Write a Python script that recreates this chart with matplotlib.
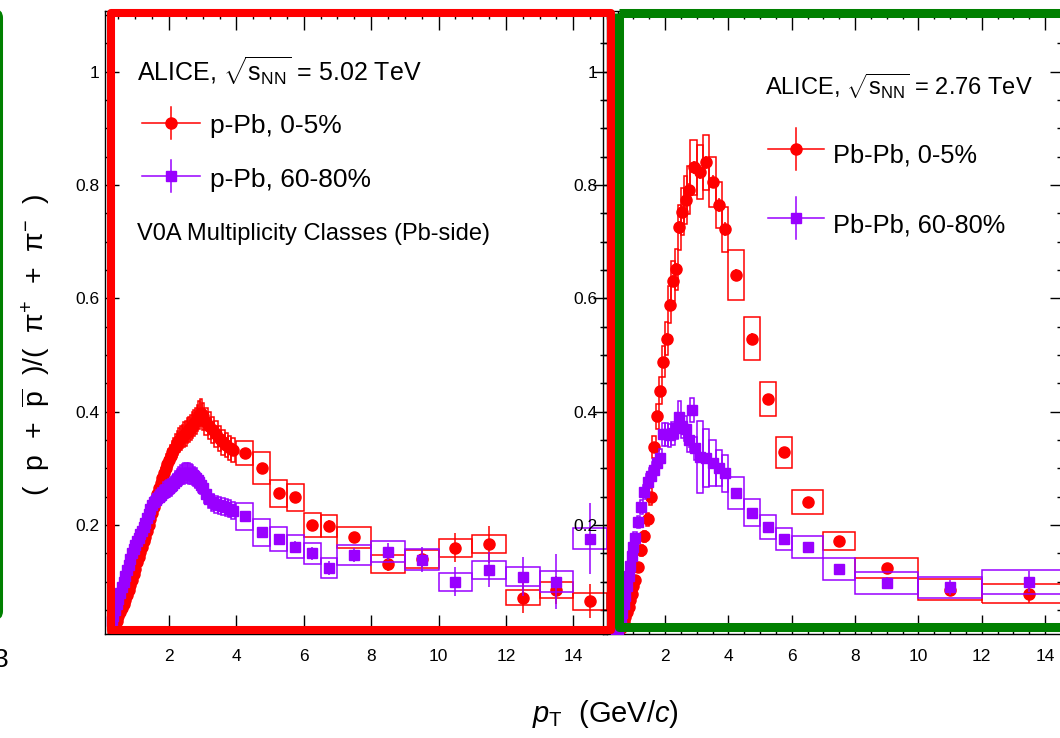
import numpy as np
import matplotlib
matplotlib.use('Agg')
import matplotlib.pyplot as plt
from matplotlib.patches import Rectangle, FancyBboxPatch
from matplotlib.lines import Line2D
from matplotlib.ticker import MultipleLocator, FuncFormatter

plt.rcParams['font.family'] = ['Liberation Sans', 'DejaVu Sans']
plt.rcParams['mathtext.fontset'] = 'custom'
plt.rcParams['mathtext.rm'] = 'Liberation Sans'
plt.rcParams['mathtext.it'] = 'Liberation Sans:italic'
plt.rcParams['mathtext.bf'] = 'Liberation Sans:bold'

# ---------------- data: p-Pb 5.02 TeV ----------------
pt_pPb_0 = [0.35, 0.40, 0.45, 0.50, 0.55, 0.60, 0.65, 0.70, 0.75, 0.80,
            0.85, 0.90, 0.95, 1.00, 1.05, 1.10, 1.15, 1.20, 1.25, 1.30,
            1.35, 1.40, 1.45, 1.50, 1.55, 1.60, 1.65, 1.70, 1.75, 1.80,
            1.85, 1.90, 1.95, 2.00, 2.05, 2.10, 2.15, 2.20, 2.25, 2.30,
            2.35, 2.40, 2.45, 2.50, 2.55, 2.60, 2.65, 2.70, 2.75, 2.80,
            2.85, 2.90, 2.95, 3.00,
            3.1, 3.2, 3.3, 3.4, 3.5, 3.6, 3.7, 3.8, 3.9,
            4.25, 4.75, 5.25, 5.75, 6.25, 6.75,
            7.5, 8.5, 9.5, 10.5, 11.5, 12.5, 13.5, 14.5]
val_pPb_0 = [0.012, 0.020, 0.030, 0.040, 0.047, 0.054, 0.061, 0.068, 0.077, 0.085,
             0.094, 0.103, 0.113, 0.123, 0.134, 0.144, 0.153, 0.162, 0.171, 0.179,
             0.190, 0.200, 0.210, 0.221, 0.232, 0.243, 0.254, 0.265, 0.274, 0.283,
             0.292, 0.300, 0.308, 0.315, 0.322, 0.329, 0.334, 0.340, 0.345, 0.350,
             0.353, 0.356, 0.359, 0.362, 0.366, 0.369, 0.372, 0.376, 0.380, 0.384,
             0.388, 0.394, 0.398, 0.392,
             0.382, 0.375, 0.368, 0.360, 0.352, 0.346, 0.341, 0.336, 0.332,
             0.327, 0.300, 0.256, 0.249, 0.200, 0.198,
             0.178, 0.131, 0.140, 0.160, 0.166, 0.072, 0.085, 0.065]
sys_pPb_0 = [0.001, 0.001, 0.002, 0.002, 0.003, 0.003, 0.004, 0.004, 0.005, 0.005,
             0.006, 0.006, 0.007, 0.007, 0.008, 0.009, 0.009, 0.010, 0.010, 0.011,
             0.011, 0.012, 0.013, 0.013, 0.014, 0.015, 0.015, 0.016, 0.016, 0.017,
             0.018, 0.018, 0.018, 0.019, 0.019, 0.020, 0.020, 0.020, 0.021, 0.021,
             0.021, 0.021, 0.022, 0.022, 0.022, 0.022, 0.022, 0.023, 0.023, 0.023,
             0.023, 0.024, 0.024, 0.024,
             0.024, 0.024, 0.023, 0.023, 0.022, 0.022, 0.021, 0.021, 0.021,
             0.022, 0.028, 0.024, 0.024, 0.022, 0.020,
             0.018, 0.016, 0.016, 0.016, 0.016, 0.014, 0.014, 0.015]
wid_pPb_0 = [0.05] * 54 + [0.1] * 9 + [0.5] * 6 + [1.0] * 8
stat_pPb_0 = [0.006, 0.006, 0.006, 0.006, 0.006, 0.006, 0.006, 0.006, 0.006,
              0.005, 0.006, 0.007, 0.008, 0.009, 0.010,
              0.010, 0.013, 0.015, 0.026, 0.033, 0.028, 0.025, 0.030]

pt_pPb_60 = [0.30, 0.35, 0.40, 0.45, 0.50, 0.55, 0.60, 0.65, 0.70, 0.75,
             0.80, 0.85, 0.90, 0.95, 1.00, 1.05, 1.10, 1.15, 1.20, 1.25,
             1.30, 1.35, 1.40, 1.45, 1.50, 1.55, 1.60, 1.65, 1.70, 1.75,
             1.80, 1.85, 1.90, 1.95, 2.00, 2.05, 2.10, 2.15, 2.20, 2.25,
             2.30, 2.35, 2.40, 2.45, 2.50, 2.55, 2.60, 2.65, 2.70, 2.75,
             2.80, 2.85, 2.90, 2.95, 3.00,
             3.1, 3.2, 3.3, 3.4, 3.5, 3.6, 3.7, 3.8, 3.9,
             4.25, 4.75, 5.25, 5.75, 6.25, 6.75,
             7.5, 8.5, 9.5, 10.5, 11.5, 12.5, 13.5, 14.5]
val_pPb_60 = [0.030, 0.040, 0.050, 0.060, 0.070, 0.080, 0.090, 0.100, 0.110, 0.120,
              0.130, 0.140, 0.150, 0.157, 0.164, 0.171, 0.177, 0.184, 0.190, 0.197,
              0.204, 0.212, 0.220, 0.228, 0.235, 0.240, 0.244, 0.247, 0.250, 0.253,
              0.256, 0.259, 0.262, 0.264, 0.266, 0.268, 0.271, 0.274, 0.278, 0.282,
              0.285, 0.288, 0.290, 0.291, 0.292, 0.292, 0.291, 0.290, 0.288, 0.286,
              0.283, 0.279, 0.275, 0.270, 0.265,
              0.255, 0.246, 0.240, 0.237, 0.235, 0.233, 0.231, 0.229, 0.225,
              0.215, 0.187, 0.175, 0.162, 0.150, 0.124,
              0.147, 0.153, 0.139, 0.100, 0.121, 0.109, 0.100, 0.176]
sys_pPb_60 = [0.002, 0.002, 0.003, 0.004, 0.004, 0.005, 0.005, 0.006, 0.007, 0.007,
              0.008, 0.008, 0.009, 0.009, 0.010, 0.010, 0.011, 0.011, 0.011, 0.012,
              0.012, 0.013, 0.013, 0.014, 0.014, 0.014, 0.015, 0.015, 0.015, 0.015,
              0.015, 0.016, 0.016, 0.016, 0.016, 0.016, 0.016, 0.016, 0.017, 0.017,
              0.017, 0.017, 0.017, 0.018, 0.018, 0.018, 0.018, 0.017, 0.017, 0.017,
              0.017, 0.017, 0.016, 0.016, 0.016,
              0.016, 0.016, 0.015, 0.015, 0.015, 0.015, 0.015, 0.015, 0.015,
              0.023, 0.024, 0.021, 0.020, 0.018, 0.018,
              0.018, 0.018, 0.018, 0.016, 0.016, 0.016, 0.018, 0.018]
wid_pPb_60 = [0.05] * 55 + [0.1] * 9 + [0.5] * 6 + [1.0] * 8
stat_pPb_60 = [0.006, 0.006, 0.006, 0.006, 0.006, 0.006, 0.006, 0.006, 0.006,
               0.006, 0.007, 0.008, 0.009, 0.012, 0.013,
               0.012, 0.015, 0.022, 0.025, 0.031, 0.034, 0.049, 0.063]

# ---------------- data: Pb-Pb 2.76 TeV ----------------
pt_PbPb_0 = [0.35, 0.40, 0.45, 0.50, 0.55, 0.60, 0.65, 0.70, 0.75, 0.80,
             0.85, 0.90, 0.95, 1.00,
             1.05, 1.15, 1.25, 1.35, 1.45, 1.55, 1.65, 1.75, 1.85, 1.95,
             2.05, 2.15, 2.25, 2.35, 2.45, 2.55, 2.65, 2.75,
             2.9, 3.1, 3.3, 3.5, 3.7, 3.9,
             4.25, 4.75, 5.25, 5.75, 6.5, 7.5, 9.0, 11.0, 13.5]
val_PbPb_0 = [0.004, 0.006, 0.008, 0.011, 0.014, 0.018, 0.023, 0.029, 0.037, 0.046,
              0.056, 0.067, 0.079, 0.092,
              0.103, 0.125, 0.155, 0.180, 0.210, 0.250, 0.338, 0.392, 0.437, 0.488,
              0.529, 0.589, 0.631, 0.651, 0.725, 0.753, 0.773, 0.791,
              0.831, 0.823, 0.840, 0.806, 0.765, 0.722,
              0.641, 0.529, 0.422, 0.328, 0.241, 0.172, 0.124, 0.086, 0.079]
sys_PbPb_0 = [0.001, 0.001, 0.001, 0.001, 0.001, 0.001, 0.002, 0.002, 0.002, 0.003,
              0.003, 0.004, 0.005, 0.005,
              0.006, 0.007, 0.009, 0.010, 0.012, 0.015, 0.019, 0.022, 0.024, 0.027,
              0.029, 0.032, 0.035, 0.036, 0.040, 0.041, 0.042, 0.043,
              0.048, 0.048, 0.048, 0.044, 0.041, 0.040,
              0.044, 0.038, 0.030, 0.027, 0.021, 0.016, 0.017, 0.018, 0.016]
wid_PbPb_0 = [0.05] * 14 + [0.1] * 18 + [0.2] * 6 + [0.5] * 4 + [1.0] * 2 + [2.0] * 2 + [3.0]
stat_PbPb_0 = [0.004, 0.004, 0.005, 0.005, 0.006, 0.006, 0.007, 0.007, 0.008, 0.008,
               0.009, 0.010, 0.010, 0.012, 0.012, 0.012, 0.012, 0.012,
               0.012, 0.012, 0.012, 0.012, 0.012, 0.012,
               0.010, 0.010, 0.010, 0.010, 0.008, 0.008, 0.008, 0.010, 0.016]

pt_PbPb_60 = [0.45, 0.50, 0.55, 0.60, 0.65, 0.70, 0.75, 0.80, 0.85, 0.90,
              0.95, 1.00,
              1.05, 1.15, 1.25, 1.35, 1.45, 1.55, 1.65, 1.75, 1.85, 1.95,
              2.05, 2.15, 2.25, 2.35, 2.45, 2.55, 2.65, 2.75, 2.85, 2.95,
              3.1, 3.3, 3.5, 3.7, 3.9,
              4.25, 4.75, 5.25, 5.75, 6.5, 7.5, 9.0, 11.0, 13.5]
val_PbPb_60 = [0.010, 0.015, 0.022, 0.032, 0.044, 0.060, 0.075, 0.093, 0.110, 0.128,
               0.145, 0.162,
               0.177, 0.205, 0.232, 0.258, 0.276, 0.287, 0.297, 0.309, 0.318, 0.360,
               0.360, 0.358, 0.362, 0.372, 0.390, 0.375, 0.370, 0.350, 0.403, 0.335,
               0.320, 0.318, 0.309, 0.300, 0.291,
               0.257, 0.222, 0.197, 0.175, 0.161, 0.122, 0.098, 0.090, 0.100]
sys_PbPb_60 = [0.001, 0.001, 0.001, 0.002, 0.002, 0.003, 0.004, 0.005, 0.006, 0.007,
               0.008, 0.009,
               0.010, 0.011, 0.012, 0.013, 0.014, 0.014, 0.015, 0.015, 0.016, 0.020,
               0.020, 0.020, 0.020, 0.021, 0.028, 0.022, 0.022, 0.021, 0.021, 0.020,
               0.064, 0.051, 0.041, 0.032, 0.032,
               0.028, 0.024, 0.021, 0.019, 0.019, 0.019, 0.019, 0.018, 0.021]
wid_PbPb_60 = [0.05] * 12 + [0.1] * 20 + [0.2] * 5 + [0.5] * 4 + [1.0] * 2 + [2.0] * 2 + [3.0]
stat_PbPb_60 = [0.006, 0.006, 0.006, 0.006, 0.006, 0.006, 0.006, 0.006, 0.006, 0.006,
                0.006, 0.006, 0.006, 0.008, 0.008, 0.008, 0.008, 0.015, 0.008, 0.008,
                0.008, 0.008, 0.008, 0.008, 0.008,
                0.006, 0.007, 0.008, 0.008, 0.008, 0.010, 0.010, 0.013, 0.018]

yticks = [0.2, 0.4, 0.6, 0.8, 1.0]
xticks = [2, 4, 6, 8, 10, 12, 14]

RED = '#ff0000'
PURPLE = '#9900ff'
GREEN = '#008000'

W, H = 1060, 738
fig = plt.figure(figsize=(W / 100, H / 100), dpi=100)
fig.patch.set_facecolor('white')


def fx(x):
    return x / W


def fy(y):
    return 1 - y / H


TOP, BOT = 11, 634
axL = fig.add_axes([fx(105), fy(BOT), (607 - 105) / W, (BOT - TOP) / H])
axR = fig.add_axes([fx(603), fy(BOT), (1064 - 603) / W, (BOT - TOP) / H])
axR.set_facecolor('none')

axL.set_xlim(0.1, 15.0)
axR.set_xlim(0.04, 14.6)
for ax in (axL, axR):
    ax.set_ylim(0.0076, 1.107)
    ax.set_xticks(xticks)
    ax.set_yticks(yticks)
    ax.xaxis.set_minor_locator(MultipleLocator(0.5))
    ax.yaxis.set_minor_locator(MultipleLocator(0.05))
    ax.yaxis.set_major_formatter(FuncFormatter(lambda v, p: '1' if abs(v - 1) < 1e-6 else f'{v:.1f}'))
    ax.xaxis.set_major_formatter(FuncFormatter(lambda v, p: f'{v:.0f}'))
    ax.tick_params(which='both', direction='in', top=True, right=True, colors='black')
    ax.tick_params(axis='x', which='major', length=14, width=1, labelsize=12.5, pad=11)
    ax.tick_params(axis='x', which='minor', length=6, width=1)
    ax.tick_params(axis='y', which='major', length=10, width=1, labelsize=12.5, pad=4)
    ax.tick_params(axis='y', which='minor', length=5, width=1)
    for s in ax.spines.values():
        s.set_linewidth(1.0)


def draw_series(ax, pt, val, wid, sys, stat, color, marker, ms, zb):
    for p, v, w, s in zip(pt, val, wid, sys):
        ax.add_patch(Rectangle((p - w / 2, v - s), w, 2 * s, fill=False,
                               ec=color, lw=1.1, zorder=zb))
    ax.plot(pt, val, ls='none', marker=marker, ms=ms, color=color, mec=color, zorder=zb + 0.5)
    n = len(pt) - len(stat)
    ax.errorbar(pt[n:], val[n:], yerr=stat, fmt='none', ecolor=color, elinewidth=1.1,
                capsize=0, zorder=zb + 0.4)


draw_series(axL, pt_pPb_0, val_pPb_0, wid_pPb_0, sys_pPb_0, stat_pPb_0, RED, 'o', 8, 2)
draw_series(axL, pt_pPb_60, val_pPb_60, wid_pPb_60, sys_pPb_60, stat_pPb_60, PURPLE, 's', 7, 4)
draw_series(axR, pt_PbPb_0, val_PbPb_0, wid_PbPb_0, sys_PbPb_0, stat_PbPb_0, RED, 'o', 8, 2)
draw_series(axR, pt_PbPb_60, val_PbPb_60, wid_PbPb_60, sys_PbPb_60, stat_PbPb_60, PURPLE, 's', 7, 4)

# ---------------- overlay (pixel coordinates) ----------------
ov = fig.add_axes([0, 0, 1, 1], zorder=10)
ov.set_xlim(0, W)
ov.set_ylim(H, 0)
ov.axis('off')
ov.patch.set_alpha(0)

# highlight frames
ov.add_patch(Rectangle((111, 12.5), 611 - 111, 630 - 12.5, fill=False, ec=RED, lw=5.8,
                       joinstyle='round', zorder=5))
ov.add_patch(Rectangle((619, 12.5), 1200, 627 - 12.5, fill=False, ec=GREEN, lw=6.5,
                       joinstyle='round', zorder=6))
ov.add_patch(FancyBboxPatch((-300, 10), 301.5, 609, boxstyle='round,pad=0,rounding_size=8',
                            fill=False, ec=GREEN, lw=2.2, zorder=6))
ov.text(1, 667, '3', fontsize=19, ha='center', va='baseline', color='black')

# annotations
alice_L = r'ALICE, $\sqrt{\mathrm{s}_{\mathrm{NN}}}$ = 5.02 TeV'
alice_R = r'ALICE, $\sqrt{\mathrm{s}_{\mathrm{NN}}}$ = 2.76 TeV'
ov.text(137, 82, alice_L, fontsize=18, ha='left', va='baseline')
ov.text(765, 95, alice_R, fontsize=17, ha='left', va='baseline')
ov.text(137, 240, 'V0A Multiplicity Classes (Pb-side)', fontsize=17, ha='left', va='baseline')


def legend_entry(xc, yc, half_w, half_h, color, marker, ms, label, tx, ty, fs):
    ov.add_line(Line2D([xc - half_w, xc + half_w], [yc, yc], color=color, lw=1.1))
    ov.add_line(Line2D([xc, xc], [yc - half_h, yc + half_h], color=color, lw=1.1))
    ov.plot([xc], [yc], marker=marker, ms=ms, color=color, ls='none')
    ov.text(tx, ty, label, fontsize=fs, ha='left', va='baseline')


legend_entry(171, 123, 29, 16, RED, 'o', 8, 'p-Pb, 0-5%', 210, 133, 19)
legend_entry(171, 176, 29, 16, PURPLE, 's', 7, 'p-Pb, 60-80%', 210, 187, 19)
legend_entry(796, 149, 28, 21, RED, 'o', 8, 'Pb-Pb, 0-5%', 833, 163, 18.3)
legend_entry(796, 218, 28, 21, PURPLE, 's', 7, 'Pb-Pb, 60-80%', 833, 233, 18.3)

# axis titles
ov.text(605, 722, r'$p_{\mathrm{T}}$  (GeV/$c$)', fontsize=21, ha='center', va='baseline')
ov.text(36, 345, r'(  p  +  $\overline{\mathrm{p}}$  )/(  $\mathrm{\pi}^{+}$  +  $\mathrm{\pi}^{-}$  )',
        fontsize=20.5, rotation=90, ha='center', va='center')

fig.savefig('out.png', dpi=100)
